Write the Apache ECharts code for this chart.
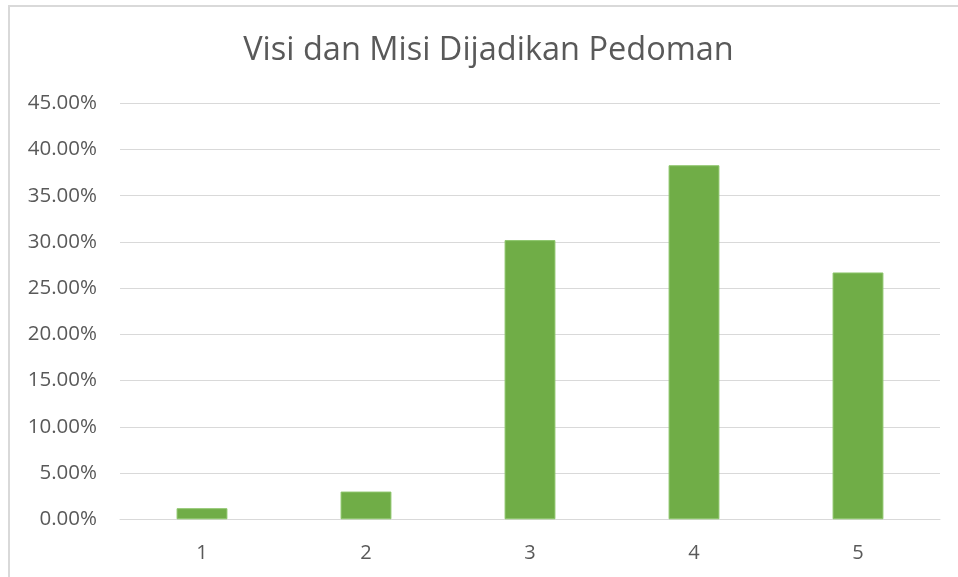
<!DOCTYPE html>
<html>
<head>
<meta charset="utf-8">
<script src="https://cdn.jsdelivr.net/npm/echarts@6/dist/echarts.min.js"></script>
<style>
html,body{margin:0;padding:0;background:#fff;}
#chart{width:958px;height:577px;}
</style>
</head>
<body>
<div id="chart"></div>
<script>
const categories = ['1', '2', '3', '4', '5'];
const percentValues = [1.2, 3.0, 30.2, 38.3, 26.7];
const yTicks = { min: 0, max: 45, interval: 5 };
const titleText = 'Visi dan Misi Dijadikan Pedoman';

const chart = echarts.init(document.getElementById('chart'), null, { renderer: 'canvas' });
chart.setOption({
  animation: false,
  backgroundColor: '#ffffff',
  graphic: [{
    type: 'rect',
    shape: { x: 9, y: 6, width: 1200, height: 1200 },
    style: { fill: 'none', stroke: '#d9d9d9', lineWidth: 2 },
    silent: true
  }],
  title: {
    text: titleText,
    left: 483.5,
    textAlign: 'center',
    top: 29,
    textStyle: { fontFamily: 'Open Sans', fontSize: 32.5, fontWeight: 'normal', color: '#595959' }
  },
  grid: { left: 120, right: 18, top: 103.3, bottom: 57.7, containLabel: false },
  xAxis: {
    type: 'category',
    data: categories,
    axisLine: { show: true, lineStyle: { color: '#d9d9d9', width: 1 } },
    axisTick: { show: false },
    axisLabel: { margin: 24, fontFamily: 'Open Sans', fontSize: 20, color: '#595959' }
  },
  yAxis: {
    type: 'value',
    min: yTicks.min,
    max: yTicks.max,
    interval: yTicks.interval,
    axisLine: { show: false },
    axisTick: { show: false },
    splitLine: { lineStyle: { color: '#d9d9d9', width: 1 } },
    axisLabel: {
      margin: 23,
      fontFamily: 'Open Sans', fontSize: 20.5, color: '#595959',
      formatter: v => v.toFixed(2) + '%'
    }
  },
  series: [{
    type: 'bar',
    data: percentValues,
    barWidth: '31%',
    itemStyle: { color: '#70ad47', borderColor: '#8cc56a', borderWidth: 1 }
  }]
});
</script>
</body>
</html>
